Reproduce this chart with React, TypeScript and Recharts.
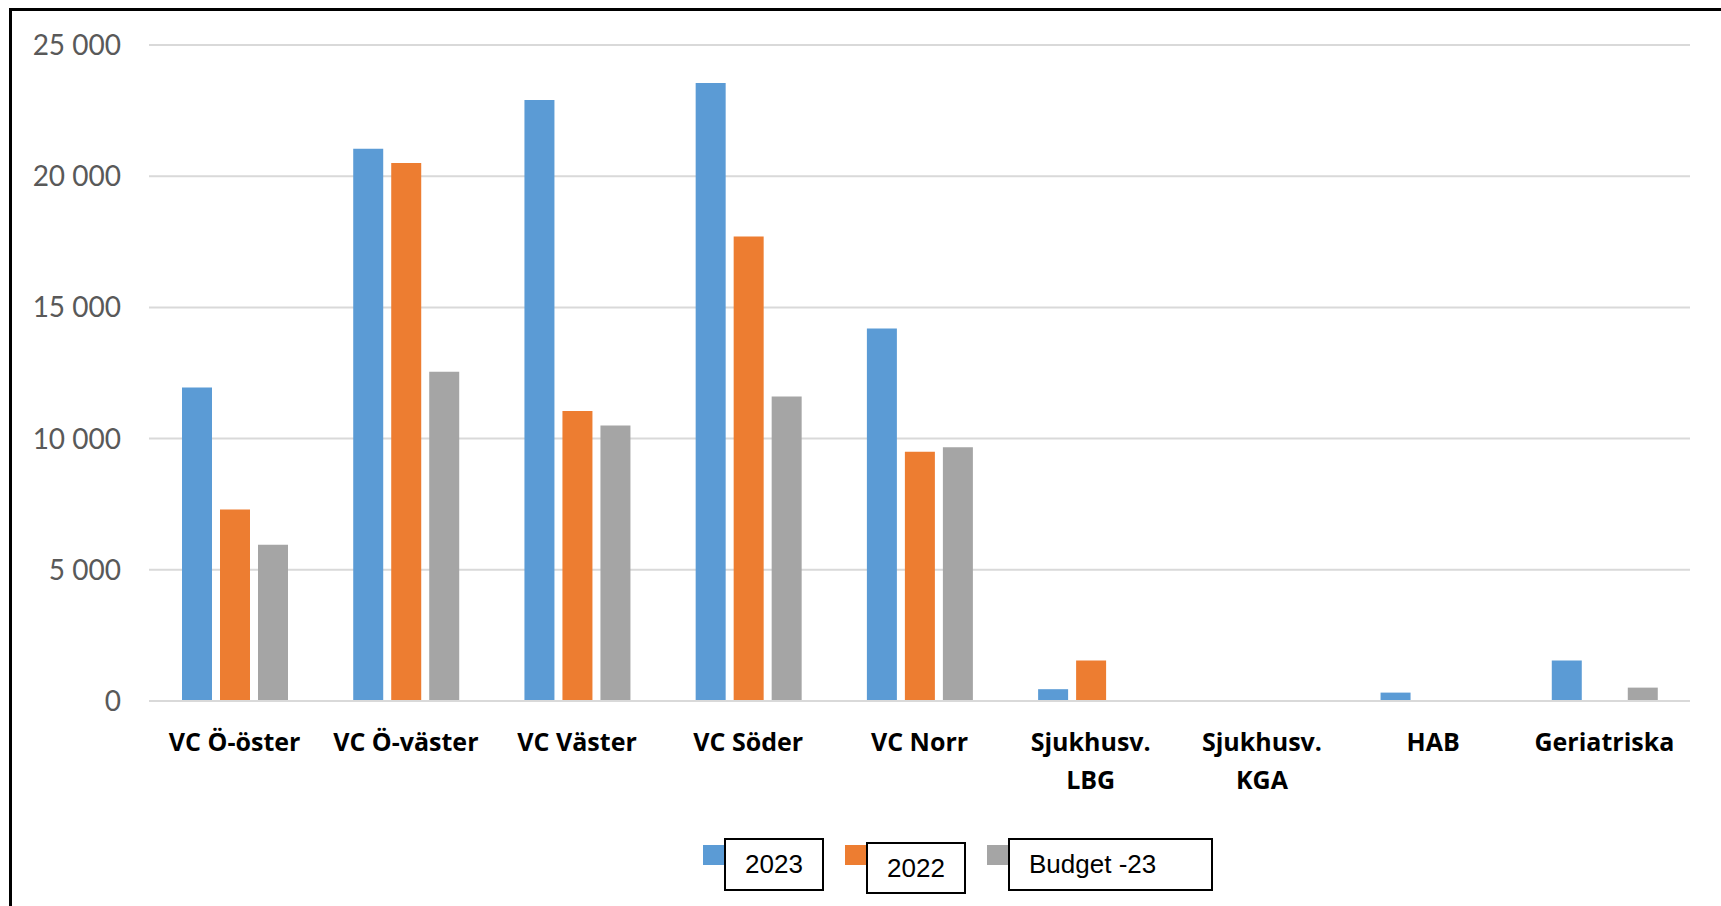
import React from 'react';
import { BarChart, Bar, XAxis, YAxis, CartesianGrid, Legend } from 'recharts';

const categories = ['VC Ö-öster', 'VC Ö-väster', 'VC Väster', 'VC Söder', 'VC Norr', 'Sjukhusv.\nLBG', 'Sjukhusv.\nKGA', 'HAB', 'Geriatriska'];
const values2023 = [11950, 21050, 22900, 23550, 14200, 450, 0, 320, 1540];
const values2022 = [7300, 20500, 11050, 17700, 9500, 1540, 0, 0, 0];
const budget23 = [5950, 12550, 10500, 11600, 9670, 0, 0, 0, 510];
const yTicks = [0, 5000, 10000, 15000, 20000, 25000];
const seriesKeys = ['v2023', 'v2022', 'budget'];
const seriesNames = ['2023', '2022', 'Budget -23'];
const seriesColors = ['#5B9BD5', '#ED7D31', '#A5A5A5'];

const data = categories.map((c, i) => ({
  name: c,
  v2023: values2023[i],
  v2022: values2022[i],
  budget: budget23[i],
}));

const legendBoxStyles = [
  { width: 100, height: 53, marginTop: 0, textAlign: 'center' as const, paddingLeft: 0 },
  { width: 100, height: 52, marginTop: 4, textAlign: 'center' as const, paddingLeft: 0 },
  { width: 205, height: 53, marginTop: 0, textAlign: 'left' as const, paddingLeft: 19 },
];

const fmt = (v: number) => {
  const s = String(Math.round(v));
  return s.replace(/\B(?=(\d{3})+(?!\d))/g, ' ');
};

const XTick = (props: any) => {
  const { x, y, payload } = props;
  const lines = String(payload.value).split('\n');
  return (
    <text
      x={x}
      y={y}
      textAnchor="middle"
      fill="#000000"
      style={{ fontFamily: '"Open Sans", sans-serif', fontWeight: 700, fontSize: 25 }}
    >
      {lines.map((l, i) => (
        <tspan key={i} x={x} dy={i === 0 ? 50 : 38}>
          {l}
        </tspan>
      ))}
    </text>
  );
};

const LegendContent = (props: any) => {
  const payload = [...(props.payload || [])].sort(
    (a: any, b: any) => seriesNames.indexOf(a.value) - seriesNames.indexOf(b.value)
  );
  return (
    <div style={{ display: 'flex', alignItems: 'flex-start', paddingLeft: 703, height: 60 }}>
      {payload.map((entry: any, i: number) => {
        const bs = legendBoxStyles[i];
        return (
          <div key={i} style={{ display: 'flex', alignItems: 'flex-start', marginRight: i < payload.length - 1 ? 21 : 0 }}>
            <div style={{ width: 21, height: 20, marginTop: 7, background: entry.color }} />
            <div
              style={{
                width: bs.width,
                height: bs.height,
                marginTop: bs.marginTop,
                border: '2px solid #000',
                boxSizing: 'border-box',
                background: '#fff',
                fontFamily: '"Liberation Sans", Arial, sans-serif',
                fontSize: 26,
                color: '#000',
                textAlign: bs.textAlign,
                paddingLeft: bs.paddingLeft,
                lineHeight: `${bs.height - 4}px`,
              }}
            >
              {entry.value}
            </div>
          </div>
        );
      })}
    </div>
  );
};

export default function App() {
  return (
    <div style={{ position: 'absolute', left: 0, top: 0, width: 1721, height: 906, overflow: 'hidden', background: '#fff' }}>
      <div
        style={{
          position: 'absolute',
          left: 9,
          top: 8,
          width: 1800,
          height: 1000,
          borderLeft: '3px solid #000',
          borderTop: '3px solid #000',
        }}
      />
      <div style={{ position: 'absolute', left: 0, top: 0 }}>
        <BarChart
          width={1721}
          height={906}
          data={data}
          margin={{ top: 45, right: 31, bottom: 75, left: 0 }}
          barSize={30}
          barGap={8}
        >
          <CartesianGrid vertical={false} stroke="#D9D9D9" strokeWidth={2} />
          <XAxis
            dataKey="name"
            interval={0}
            height={130}
            tickLine={false}
            tickSize={0}
            tickMargin={0}
            axisLine={{ stroke: '#D9D9D9', strokeWidth: 2 }}
            tick={<XTick />}
          />
          <YAxis
            width={149}
            domain={[0, 25000]}
            ticks={yTicks}
            axisLine={false}
            tickLine={false}
            tickSize={0}
            tickMargin={28}
            tickFormatter={fmt}
            tick={{ fill: '#595959', fontSize: 28, fontFamily: 'Lato, sans-serif' }}
          />
          <Legend
            verticalAlign="middle"
            align="center"
            itemSorter={(item: any) => seriesNames.indexOf(item.value)}
            wrapperStyle={{ top: 838, left: 0, width: 1721, height: 60 }}
            content={<LegendContent />}
          />
          {seriesKeys.map((k, i) => (
            <Bar key={k} dataKey={k} name={seriesNames[i]} fill={seriesColors[i]} isAnimationActive={false} />
          ))}
        </BarChart>
      </div>
    </div>
  );
}
